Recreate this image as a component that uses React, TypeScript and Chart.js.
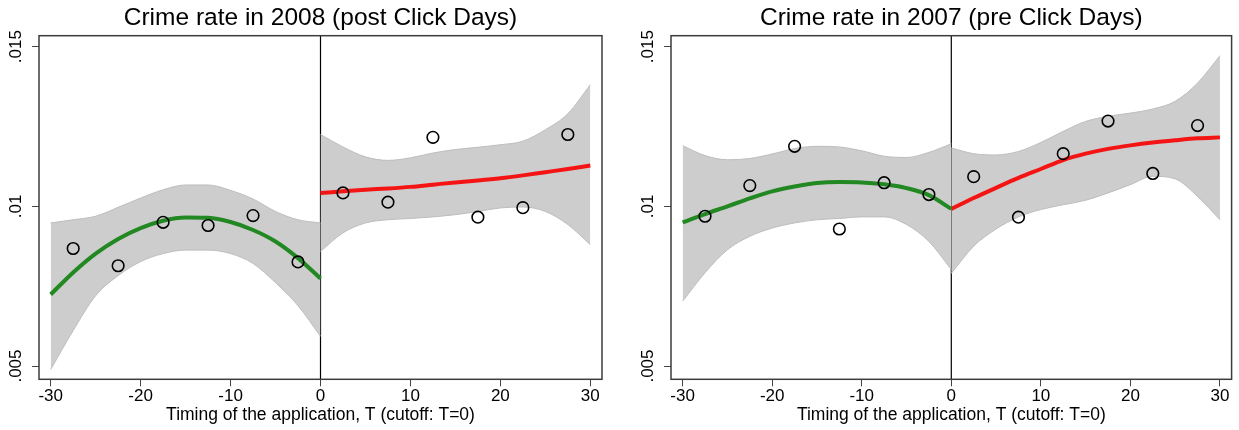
import React, { useEffect, useRef } from 'react';
import { Chart, registerables } from 'chart.js';

Chart.register(...registerables);

const FONT = '"Liberation Sans", Arial, Helvetica, sans-serif';

// Axis ticks
const xTicks = [-30, -20, -10, 0, 10, 20, 30];
const yTicks = [0.005, 0.01, 0.015];
const yTickLabels = ['.005', '.01', '.015'];
const xTitle = 'Timing of the application, T (cutoff: T=0)';

// Bin centres of the running variable
const binCentres = [-27.5, -22.5, -17.5, -12.5, -7.5, -2.5, 2.5, 7.5, 12.5, 17.5, 22.5, 27.5];

// Binned crime rates
const rate2008 = [0.00868, 0.00814, 0.0095, 0.0094, 0.00971, 0.00826, 0.01042, 0.01013, 0.01216, 0.00966, 0.00996, 0.01225];
const rate2007 = [0.00969, 0.01065, 0.01188, 0.00929, 0.01074, 0.01037, 0.01093, 0.00966, 0.01165, 0.01267, 0.01103, 0.01253];

// Evaluation grids on each side of the cutoff
const gridLeft = [-30, -27.5, -25, -22.5, -20, -17.5, -15, -12.5, -10, -7.5, -5, -2.5, 0];
const gridRight = [0, 2.5, 5, 7.5, 10, 12.5, 15, 17.5, 20, 22.5, 25, 27.5, 30];

// Polynomial fits
const fit2008Left = [0.00724, 0.00793, 0.00852, 0.00898, 0.00932, 0.00955, 0.00965, 0.00964, 0.00951, 0.00926, 0.0089, 0.00838, 0.00774];
const fit2008Right = [0.01042, 0.01047, 0.01052, 0.01056, 0.01061, 0.01068, 0.01075, 0.01081, 0.01088, 0.01097, 0.01107, 0.01117, 0.01128];
const fit2007Left = [0.0095, 0.00976, 0.01, 0.01025, 0.01047, 0.01062, 0.01073, 0.01076, 0.01075, 0.01069, 0.01057, 0.01035, 0.00992];
const fit2007Right = [0.00992, 0.01026, 0.01058, 0.01089, 0.01117, 0.01145, 0.01165, 0.0118, 0.01191, 0.012, 0.01207, 0.01213, 0.01216];

// 95% confidence bands
const band2008LeftHi = [0.00948, 0.00958, 0.00969, 0.00997, 0.01026, 0.01052, 0.01067, 0.01067, 0.0105, 0.01023, 0.00984, 0.00958, 0.00948];
const band2008LeftLo = [0.00489, 0.00611, 0.0072, 0.00783, 0.00827, 0.00852, 0.00863, 0.00863, 0.00852, 0.00821, 0.00761, 0.00689, 0.00593];
const band2008RightHi = [0.01225, 0.01186, 0.01155, 0.01144, 0.01152, 0.01167, 0.01178, 0.01185, 0.01193, 0.01204, 0.0124, 0.0129, 0.01381];
const band2008RightLo = [0.00859, 0.00917, 0.00948, 0.00958, 0.00962, 0.00967, 0.00974, 0.00984, 0.00995, 0.00998, 0.00984, 0.00943, 0.0088];
const band2007LeftHi = [0.0119, 0.01159, 0.01146, 0.0115, 0.01164, 0.01181, 0.01188, 0.01186, 0.01174, 0.01157, 0.01153, 0.01169, 0.01196];
const band2007LeftLo = [0.00703, 0.00792, 0.00864, 0.00906, 0.00932, 0.00948, 0.00958, 0.00962, 0.00967, 0.00967, 0.00943, 0.0089, 0.00802];
const band2007RightHi = [0.01183, 0.01165, 0.01161, 0.01172, 0.012, 0.01235, 0.01266, 0.01282, 0.01292, 0.01305, 0.01329, 0.01386, 0.01472];
const band2007RightLo = [0.0079, 0.00875, 0.00929, 0.00967, 0.0099, 0.01005, 0.01019, 0.01042, 0.01068, 0.01094, 0.01086, 0.01031, 0.00958];

const GREEN = 'rgb(34,136,34)';
const RED = 'rgb(245,20,20)';
const BAND_FILL = '#cdcdcd';
const BAND_EDGE = '#bdbdbd';

const pts = (xs: number[], ys: number[]) => xs.map((x, i) => ({ x, y: ys[i] }));

const panelPlugin = {
  id: 'panelDecor',
  beforeDraw(chart: any) {
    const { ctx, chartArea } = chart;
    const px = chart.scales.x.getPixelForValue(0);
    ctx.save();
    ctx.strokeStyle = '#000';
    ctx.lineWidth = 1.2;
    ctx.beginPath();
    ctx.moveTo(px, chartArea.top);
    ctx.lineTo(px, chartArea.bottom);
    ctx.stroke();
    ctx.restore();
  },
  afterDraw(chart: any) {
    const { ctx, chartArea } = chart;
    ctx.save();
    ctx.strokeStyle = '#3c3c3c';
    ctx.lineWidth = 1.5;
    ctx.strokeRect(chartArea.left, chartArea.top, chartArea.right - chartArea.left, chartArea.bottom - chartArea.top);
    const ys = chart.scales.y;
    ctx.fillStyle = '#000';
    ctx.font = `17px ${FONT}`;
    ctx.textAlign = 'center';
    ctx.textBaseline = 'middle';
    ys.ticks.forEach((t: any, i: number) => {
      const py = ys.getPixelForValue(t.value);
      ctx.save();
      ctx.translate(chartArea.left - 22.7, py);
      ctx.rotate(-Math.PI / 2);
      ctx.fillText(t.label ?? yTickLabels[i], 0, 0);
      ctx.restore();
    });
    ctx.restore();
  },
};

type PanelData = {
  title: string;
  rates: number[];
  fitL: number[];
  fitR: number[];
  bandLHi: number[];
  bandLLo: number[];
  bandRHi: number[];
  bandRLo: number[];
  yAxisWidth: number;
  rightPad: number;
};

function makeConfig(p: PanelData): any {
  const bandStyle = {
    borderColor: BAND_EDGE,
    borderWidth: 1,
    backgroundColor: BAND_FILL,
    pointRadius: 0,
    cubicInterpolationMode: 'monotone',
  };
  const fitStyle = {
    borderWidth: 4,
    pointRadius: 0,
    cubicInterpolationMode: 'monotone',
  };
  const gridOpts = {
    display: true,
    drawOnChartArea: false,
    drawTicks: true,
    tickLength: 7,
    color: '#444',
    lineWidth: 1,
  };
  return {
    type: 'line',
    data: {
      datasets: [
        {
          label: 'bins',
          data: pts(binCentres, p.rates),
          showLine: false,
          pointRadius: 5.8,
          pointHoverRadius: 5.8,
          pointBorderWidth: 1.6,
          pointBorderColor: '#000',
          pointBackgroundColor: 'rgba(0,0,0,0)',
        },
        { label: 'fit left', data: pts(gridLeft, p.fitL), borderColor: GREEN, ...fitStyle },
        { label: 'fit right', data: pts(gridRight, p.fitR), borderColor: RED, ...fitStyle },
        { label: 'ci left hi', data: pts(gridLeft, p.bandLHi), fill: 4, ...bandStyle },
        { label: 'ci left lo', data: pts(gridLeft, p.bandLLo), fill: false, ...bandStyle },
        { label: 'ci right hi', data: pts(gridRight, p.bandRHi), fill: 6, ...bandStyle },
        { label: 'ci right lo', data: pts(gridRight, p.bandRLo), fill: false, ...bandStyle },
      ],
    },
    options: {
      animation: false,
      responsive: false,
      devicePixelRatio: 1,
      layout: { padding: { left: 0, right: p.rightPad, top: 0, bottom: 0 } },
      plugins: {
        legend: { display: false },
        tooltip: { enabled: false },
        filler: { drawTime: 'beforeDatasetsDraw' },
        title: {
          display: true,
          text: p.title,
          fullSize: false,
          color: '#000',
          font: { family: FONT, size: 24.5, weight: 'normal', lineHeight: 1.2 },
          padding: { top: 3.3, bottom: 3.0 },
        },
      },
      scales: {
        x: {
          type: 'linear',
          min: -31.3,
          max: 31.3,
          afterBuildTicks: (s: any) => {
            s.ticks = xTicks.map((v) => ({ value: v }));
          },
          afterFit: (s: any) => {
            s.height = 50.7;
          },
          ticks: {
            padding: 0,
            color: '#000',
            autoSkip: false,
            maxRotation: 0,
            font: { family: FONT, size: 17 },
            callback: (v: number) => String(v),
          },
          grid: gridOpts,
          border: { display: false },
          title: {
            display: true,
            text: xTitle,
            color: '#000',
            font: { family: FONT, size: 17.5, lineHeight: 1.2 },
            padding: { top: 0, bottom: 4.6 },
          },
        },
        y: {
          type: 'linear',
          min: 0.004584,
          max: 0.015344,
          afterBuildTicks: (s: any) => {
            s.ticks = yTicks.map((v) => ({ value: v }));
          },
          afterFit: (s: any) => {
            s.width = p.yAxisWidth;
          },
          ticks: {
            display: false,
            callback: (v: number) => yTickLabels[yTicks.indexOf(v)] ?? String(v),
          },
          grid: gridOpts,
          border: { display: false },
        },
      },
    },
    plugins: [panelPlugin],
  };
}

const panel2008: PanelData = {
  title: 'Crime rate in 2008 (post Click Days)',
  rates: rate2008,
  fitL: fit2008Left,
  fitR: fit2008Right,
  bandLHi: band2008LeftHi,
  bandLLo: band2008LeftLo,
  bandRHi: band2008RightHi,
  bandRLo: band2008RightLo,
  yAxisWidth: 39,
  rightPad: 18,
};

const panel2007: PanelData = {
  title: 'Crime rate in 2007 (pre Click Days)',
  rates: rate2007,
  fitL: fit2007Left,
  fitR: fit2007Right,
  bandLHi: band2007LeftHi,
  bandLLo: band2007LeftLo,
  bandRHi: band2007RightHi,
  bandRLo: band2007RightLo,
  yAxisWidth: 51,
  rightPad: 4.7,
};

function Panel({ data, width, left }: { data: PanelData; width: number; left: number }) {
  const ref = useRef<HTMLCanvasElement | null>(null);
  useEffect(() => {
    if (!ref.current) return;
    const chart = new Chart(ref.current, makeConfig(data));
    return () => chart.destroy();
  }, [data]);
  return (
    <canvas
      ref={ref}
      width={width}
      height={430}
      style={{ position: 'absolute', left, top: 0, width, height: 430 }}
    />
  );
}

export default function App() {
  return (
    <div style={{ position: 'absolute', left: 0, top: 0, width: 1239, height: 430, background: '#fff' }}>
      <Panel data={panel2008} width={620} left={0} />
      <Panel data={panel2007} width={619} left={620} />
    </div>
  );
}
